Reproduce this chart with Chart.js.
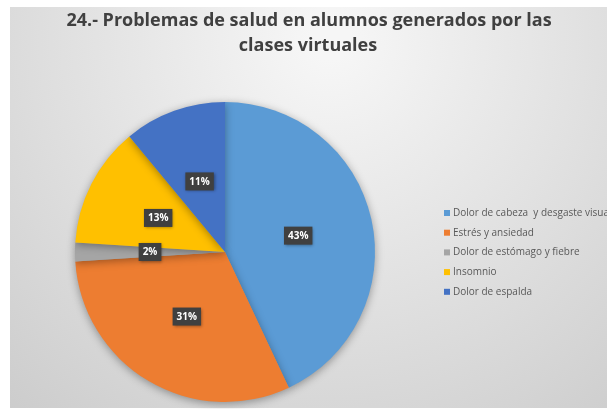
<!DOCTYPE html>
<html>
<head>
<meta charset="utf-8">
<script src="https://cdn.jsdelivr.net/npm/chart.js@4"></script>
<style>
  html, body { margin: 0; padding: 0; background: #fff; }
  #wrap { width: 607px; height: 409px; position: relative; }
</style>
</head>
<body>
<div id="wrap"><canvas id="pie" width="607" height="409"></canvas></div>
<script>
// Data
const titleLines = ['24.- Problemas de salud en alumnos generados por las', 'clases virtuales'];
const categories = ['Dolor de cabeza  y desgaste visual', 'Estrés y ansiedad', 'Dolor de estómago y fiebre', 'Insomnio', 'Dolor de espalda'];
const percents = [43, 31, 2, 13, 11];
const colors = ['#5B9BD5', '#ED7D31', '#A5A5A5', '#FFC000', '#4472C4'];

// Background panel + pie shadow
const panelBg = {
  id: 'panelBg',
  beforeDraw(chart) {
    const ctx = chart.ctx;
    ctx.save();
    const g = ctx.createRadialGradient(330, 40, 20, 330, 40, 560);
    g.addColorStop(0, '#f6f6f6');
    g.addColorStop(1, '#c6c6c6');
    ctx.fillStyle = g;
    ctx.fillRect(10, 7, 597, 401);
    ctx.restore();
  },
  beforeDatasetsDraw(chart) {
    chart.ctx.save();
    chart.ctx.shadowColor = 'rgba(0,0,0,0.35)';
    chart.ctx.shadowBlur = 8;
    chart.ctx.shadowOffsetY = 2;
  },
  afterDatasetsDraw(chart) {
    chart.ctx.restore();
  }
};

// Title, data labels and legend
const overlay = {
  id: 'overlay',
  afterDraw(chart) {
    const ctx = chart.ctx;
    ctx.save();
    ctx.fillStyle = '#404040';
    ctx.font = 'bold 18px "Open Sans"';
    ctx.textAlign = 'center';
    ctx.textBaseline = 'middle';
    ctx.fillText(titleLines[0], 309, 21);
    ctx.fillText(titleLines[1], 308, 46);

    // data labels at half radius
    const meta = chart.getDatasetMeta(0);
    ctx.font = 'bold 10px "Open Sans"';
    meta.data.forEach((arc, i) => {
      const mid = (arc.startAngle + arc.endAngle) / 2;
      const r = arc.outerRadius * 0.5;
      const x = arc.x + Math.cos(mid) * r;
      const y = arc.y + Math.sin(mid) * r;
      const txt = percents[i] + '%';
      const w = ctx.measureText(txt).width + 8;
      ctx.shadowColor = 'rgba(0,0,0,0.4)';
      ctx.shadowBlur = 3;
      ctx.shadowOffsetX = 1;
      ctx.shadowOffsetY = 1;
      ctx.fillStyle = '#404040';
      ctx.fillRect(x - w / 2, y - 9, w, 18);
      ctx.shadowColor = 'transparent';
      ctx.fillStyle = '#ffffff';
      ctx.fillText(txt, x, y + 0.5);
    });

    // legend
    ctx.font = '10px "Open Sans"';
    ctx.textAlign = 'left';
    categories.forEach((c, i) => {
      const y = 213 + i * 19.7;
      ctx.fillStyle = colors[i];
      ctx.fillRect(444, y - 3, 6, 6);
      ctx.fillStyle = '#595959';
      ctx.fillText(c, 453, y);
    });
    ctx.restore();
  }
};

new Chart(document.getElementById('pie'), {
  type: 'pie',
  data: {
    labels: categories,
    datasets: [{
      data: percents,
      backgroundColor: colors,
      borderWidth: 0
    }]
  },
  options: {
    responsive: false,
    animation: false,
    layout: { padding: { left: 75, top: 102, right: 232, bottom: 7 } },
    plugins: {
      legend: { display: false },
      title: { display: false },
      tooltip: { enabled: false }
    }
  },
  plugins: [panelBg, overlay]
});
</script>
</body>
</html>
